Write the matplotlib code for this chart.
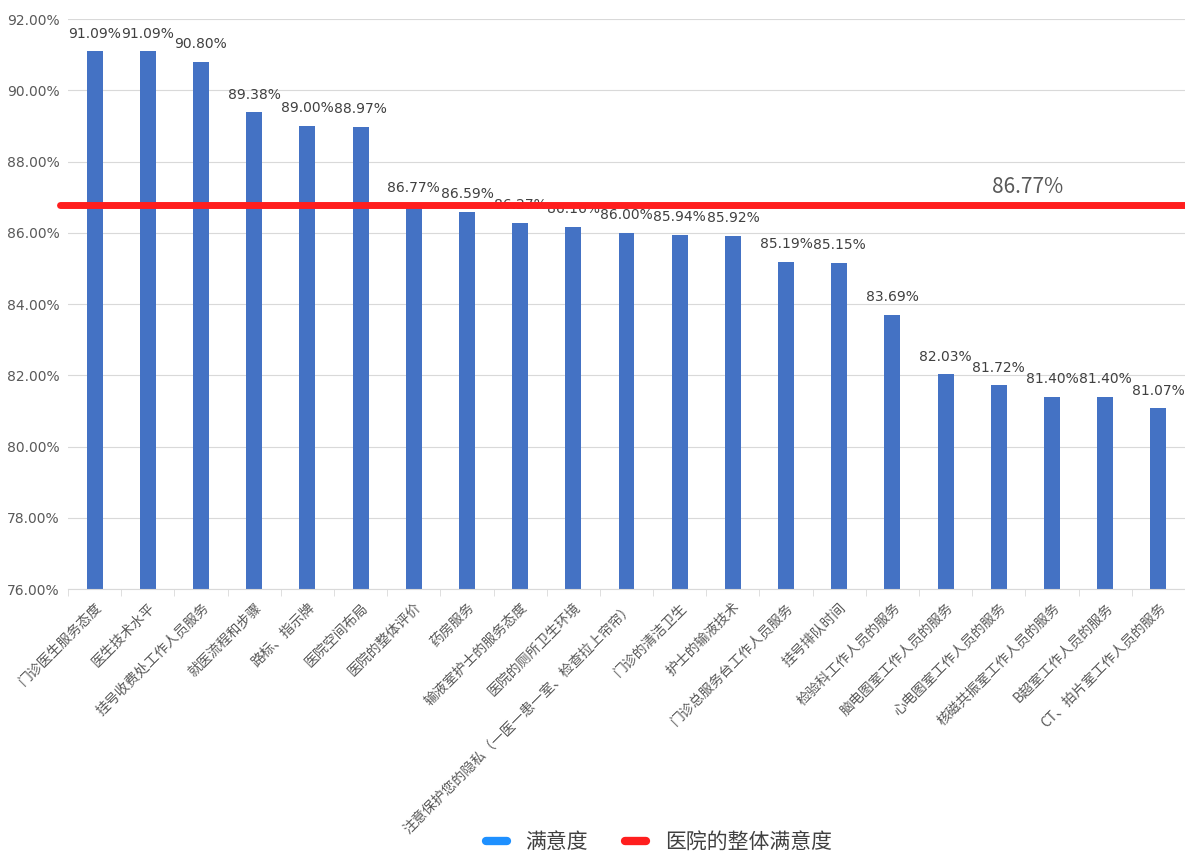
import matplotlib
matplotlib.use("Agg")
from matplotlib import pyplot as plt
from matplotlib.ticker import FuncFormatter
from matplotlib.lines import Line2D
from matplotlib.transforms import ScaledTranslation

plt.rcParams['font.family'] = ['Noto Sans CJK SC', 'DejaVu Sans']

categories = [
    "门诊医生服务态度", "医生技术水平", "挂号收费处工作人员服务", "就医流程和步骤",
    "路标、指示牌", "医院空间布局", "医院的整体评价", "药房服务",
    "输液室护士的服务态度", "医院的厕所卫生环境",
    "注意保护您的隐私（一医一患一室、检查拉上帘帘）", "门诊的清洁卫生",
    "护士的输液技术", "门诊总服务台工作人员服务", "挂号排队时间",
    "检验科工作人员的服务", "脑电图室工作人员的服务", "心电图室工作人员的服务",
    "核磁共振室工作人员的服务", "B超室工作人员的服务", "CT、拍片室工作人员的服务",
]
satisfaction = [91.09, 91.09, 90.80, 89.38, 89.00, 88.97, 86.77, 86.59, 86.27, 86.16,
                86.00, 85.94, 85.92, 85.19, 85.15, 83.69, 82.03, 81.72, 81.40, 81.40, 81.07]
overall = 86.77

fig = plt.figure(figsize=(11.85, 8.65), dpi=100)
ax = fig.add_axes([0.0574, 0.319, 0.9426, 0.659])

x = list(range(len(categories)))
ax.bar(x, satisfaction, width=0.3, color="#4472C4", zorder=2)
for xi, v in zip(x, satisfaction):
    ax.text(xi, v + 0.3, "{:.2f}%".format(v), ha="center", va="bottom",
            fontsize=10, color="#404040", family=["DejaVu Sans"], zorder=3)

ax.plot([-0.66, 20.5], [overall, overall], color="#FF1E1E", lw=5,
        solid_capstyle="round", clip_on=False, zorder=4)
ax.text(17.55, overall + 0.2, "{:.2f}%".format(overall), ha="center", va="bottom",
        fontsize=15, color="#595959", zorder=5)

ax.set_ylim(76, 92)
ax.set_xlim(-0.5, 20.5)
ax.set_yticks(range(76, 93, 2))
ax.yaxis.set_major_formatter(FuncFormatter(lambda v, p: "{:.2f}%".format(v)))
ax.tick_params(axis="y", length=0, labelsize=10, labelcolor="#595959", pad=6)
for lbl in ax.get_yticklabels():
    lbl.set_family(["DejaVu Sans"])
ax.grid(axis="y", color="#D9D9D9", lw=0.8, zorder=0)

ax.set_xticks(x)
ax.set_xticklabels(categories, rotation=45, ha="right", rotation_mode="anchor",
                   fontsize=10, color="#595959")
shift = ScaledTranslation(14 / 100, 0, fig.dpi_scale_trans)
for lbl in ax.get_xticklabels():
    lbl.set_transform(lbl.get_transform() + shift)
ax.set_xticks([i + 0.5 for i in range(-1, len(categories))], minor=True)
ax.tick_params(axis="x", which="major", length=0, pad=8)
ax.tick_params(axis="x", which="minor", length=5, color="#D9D9D9")

for s in ["top", "right", "left"]:
    ax.spines[s].set_visible(False)
ax.spines["bottom"].set_color("#D9D9D9")

handles = [Line2D([0], [0], color="#1E90FF", lw=6, solid_capstyle="round"),
           Line2D([0], [0], color="#FF1E1E", lw=6, solid_capstyle="round")]
fig.legend(handles, ["满意度", "医院的整体满意度"], loc="lower center",
           bbox_to_anchor=(0.556, -0.008), ncol=2, frameon=False, fontsize=15,
           handlelength=1.0, handletextpad=0.9, columnspacing=1.8,
           labelcolor="#404040")

fig.savefig("out.png", dpi=100, facecolor="white")
